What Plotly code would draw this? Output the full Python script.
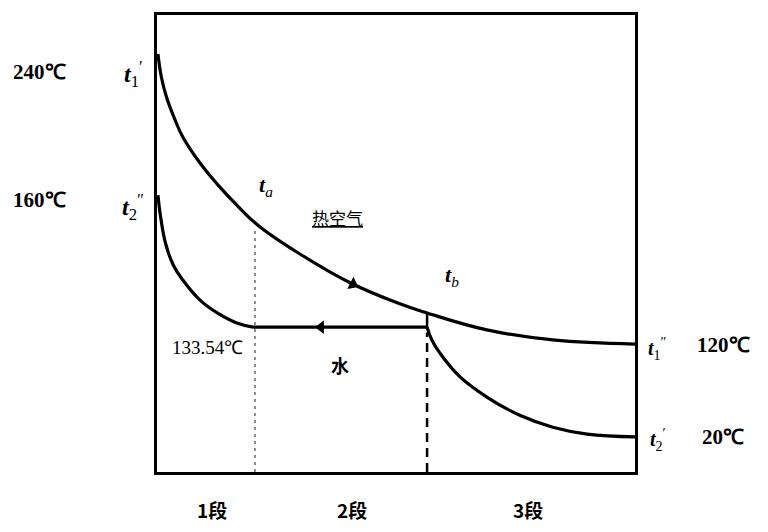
import plotly.graph_objects as go

# Schematic coordinates: x = position along exchanger (0..100), y = relative temperature height (0..100)
hot_x = [0.2, 0.9, 2.0, 3.6, 5.4, 9.0, 12.6, 16.7, 21.1, 29.9, 40.4, 50.8, 56.5, 69.0, 82.8, 100.0]
hot_y = [91.5, 86.5, 82.0, 77.5, 73.3, 67.6, 63.0, 58.4, 54.0, 47.7, 41.4, 36.8, 34.8, 31.1, 28.9, 28.0]

steam_x = [0.2, 0.8, 1.8, 3.4, 5.4, 9.0, 12.6, 16.7, 20.1]
steam_y = [60.6, 55.5, 50.0, 45.3, 42.0, 37.6, 34.8, 32.6, 31.7]

boil_x = [20.1, 56.5]
boil_y = [31.7, 31.7]

pre_x = [56.5, 57.5, 59.2, 63.4, 69.0, 75.9, 82.8, 90.0, 100.0]
pre_y = [31.7, 28.9, 26.0, 20.8, 16.4, 12.4, 9.8, 8.3, 7.7]

seg1_x = 20.5      # boundary between section 1 and 2
seg2_x = 56.5      # boundary between section 2 and 3
seg1_top = 53.6

# flow-direction arrows (hot air to the right, water to the left)
arrow_x = [41.0, 34.3]
arrow_y = [41.1, 31.7]
arrow_angle = [27, 0]
arrow_symbol = ["triangle-right", "triangle-left"]

left_labels = ["240℃", "160℃"]
left_y = [87.5, 59.5]
right_labels = ["120℃", "20℃"]
right_y = [27.8, 7.7]
sections = ["1段", "2段", "3段"]
section_x = [11.5, 40.8, 77.6]

fig = go.Figure()
curve = dict(color="black", width=3.2, shape="spline", smoothing=1.2)
fig.add_trace(go.Scatter(x=hot_x, y=hot_y, mode="lines", line=curve, showlegend=False))
fig.add_trace(go.Scatter(x=steam_x, y=steam_y, mode="lines", line=curve, showlegend=False))
fig.add_trace(go.Scatter(x=boil_x, y=boil_y, mode="lines", line=dict(color="black", width=3.2), showlegend=False))
fig.add_trace(go.Scatter(x=pre_x, y=pre_y, mode="lines", line=curve, showlegend=False))
# small connector at section 2/3 boundary
fig.add_trace(go.Scatter(x=[seg2_x, seg2_x], y=[31.7, 34.8], mode="lines", line=dict(color="black", width=2.5), showlegend=False))
# boundaries
fig.add_trace(go.Scatter(x=[seg1_x, seg1_x], y=[0, seg1_top], mode="lines", line=dict(color="#444", width=1.2, dash="3px,4px"), showlegend=False))
fig.add_trace(go.Scatter(x=[seg2_x, seg2_x], y=[0, 30.5], mode="lines", line=dict(color="black", width=2.5, dash="9px,6px"), showlegend=False))
fig.add_trace(go.Scatter(x=arrow_x, y=arrow_y, mode="markers", showlegend=False,
                         marker=dict(symbol=arrow_symbol, angle=arrow_angle, size=12, color="black")))

ann = []
serif = "Liberation Serif"
cjk = "Noto Sans CJK SC"
# outside labels use paper refs (axis range 0..100 maps to paper 0..1)
def P(v):
    return v / 100.0

for t, y in zip(left_labels, left_y):
    ann.append(dict(x=P(-24.5), y=P(y), text="<b>" + t + "</b>", font=dict(family=serif, size=21), xref="paper", yref="paper"))
for t, y in zip(right_labels, right_y):
    ann.append(dict(x=P(118.5), y=P(y), text="<b>" + t + "</b>", font=dict(family=serif, size=21), xref="paper", yref="paper"))
ann.append(dict(x=P(-5.0), y=P(87.0), text="<i><b>t</b></i><sub>1</sub><sup>′</sup>", font=dict(family=serif, size=24), xref="paper", yref="paper"))
ann.append(dict(x=P(-5.0), y=P(58.0), text="<i><b>t</b></i><sub>2</sub><sup>″</sup>", font=dict(family=serif, size=24), xref="paper", yref="paper"))
ann.append(dict(x=P(104.8), y=P(27.0), text="<i><b>t</b></i><sub>1</sub><sup>″</sup>", font=dict(family=serif, size=20), xref="paper", yref="paper"))
ann.append(dict(x=P(104.8), y=P(7.0), text="<i><b>t</b></i><sub>2</sub><sup>′</sup>", font=dict(family=serif, size=20), xref="paper", yref="paper"))
for t, x in zip(sections, section_x):
    ann.append(dict(x=P(x), y=P(-8.3), text="<b>" + t + "</b>", font=dict(family=cjk, size=19), xref="paper", yref="paper"))
ann.append(dict(x=22.8, y=62.5, text="<i><b>t</b><sub>a</sub></i>", font=dict(family=serif, size=22), xref="x", yref="y"))
ann.append(dict(x=61.8, y=42.8, text="<i><b>t</b><sub>b</sub></i>", font=dict(family=serif, size=22), xref="x", yref="y"))
ann.append(dict(x=37.7, y=55.6, text="<u>热空气</u>", font=dict(family=cjk, size=17), xref="x", yref="y"))
ann.append(dict(x=10.5, y=27.2, text="133.54℃", font=dict(family=serif, size=19), xref="x", yref="y"))
ann.append(dict(x=38.3, y=23.4, text="<b>水</b>", font=dict(family=cjk, size=18), xref="x", yref="y"))
for a in ann:
    a["showarrow"] = False
    a["xanchor"] = "center"
    a["yanchor"] = "middle"
    a["font"]["color"] = "black"

fig.update_layout(
    width=768, height=532,
    margin=dict(l=157, r=133, t=15, b=60),
    paper_bgcolor="white", plot_bgcolor="white",
    annotations=ann,
    xaxis=dict(range=[0, 100], showgrid=False, zeroline=False, showticklabels=False, ticks="",
               showline=True, linecolor="black", linewidth=3, mirror=True),
    yaxis=dict(range=[0, 100], showgrid=False, zeroline=False, showticklabels=False, ticks="",
               showline=True, linecolor="black", linewidth=3, mirror=True),
)
fig.write_html("out.html")
